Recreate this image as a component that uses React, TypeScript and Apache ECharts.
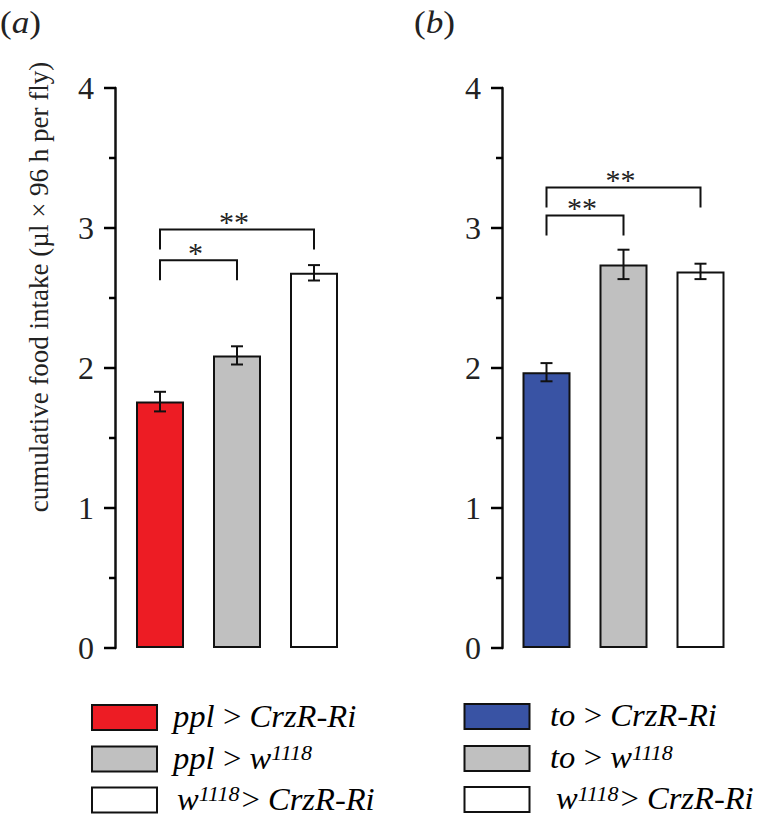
import React, { useEffect, useRef } from 'react';
import * as echarts from 'echarts';

// ---- data ----
const CAT_A = ['ppl > CrzR-Ri', 'ppl > w1118', 'w1118 > CrzR-Ri'];
const VAL_A = [1.76, 2.09, 2.68];
const ERR_A = [0.07, 0.065, 0.055];
const COLORS_A = ['#ED1C24', '#C0C0C0', '#FFFFFF'];

const CAT_B = ['to > CrzR-Ri', 'to > w1118', 'w1118 > CrzR-Ri'];
const VAL_B = [1.97, 2.74, 2.69];
const ERR_B = [0.065, 0.105, 0.055];
const COLORS_B = ['#3953A4', '#C0C0C0', '#FFFFFF'];

// [fromIndex, toIndex, bracketValue, label]
const SIG_A: [number, number, number, string][] = [
  [0, 1, 2.77, '*'],
  [0, 2, 2.99, '**'],
];
const SIG_B: [number, number, number, string][] = [
  [0, 1, 3.09, '**'],
  [0, 2, 3.29, '**'],
];

const Y_MIN = 0;
const Y_MAX = 4;
const Y_INTERVAL = 1;
// positions of the y-axis tick marks (integers = major, halves = minor)
const Y_TICK_VALUES = [0, 0.5, 1, 1.5, 2, 2.5, 3, 3.5, 4];

const Y_TITLE = 'cumulative food intake (µl × 96 h per fly)';

// legend rich-text lines
const LEGEND_A = [
  '{t|ppl\u2009>\u2009CrzR-Ri}',
  '{t|ppl\u2009>\u2009w}{s|1118}',
  '{t|w}{s|1118}{t|>\u2009CrzR-Ri}',
];
const LEGEND_B = [
  '{t|to\u2009>\u2009CrzR-Ri}',
  '{t|to\u2009>\u2009w}{s|1118}',
  '{t|w}{s|1118}{t|>\u2009CrzR-Ri}',
];

const FONT = "'Liberation Serif', 'Times New Roman', Times, serif";

const OFFSET_A = 6.5;
const OFFSET_B = 6;

const errRender = (params: any, api: any) => {
  const x = api.value(0);
  const v = api.value(1);
  const e = api.value(2);
  const top = api.coord([x, v + e]);
  const bot = api.coord([x, v - e]);
  const hw = 6;
  const st = { stroke: '#111', lineWidth: 2 };
  return {
    type: 'group',
    children: [
      { type: 'line', shape: { x1: top[0], y1: top[1], x2: bot[0], y2: bot[1] }, style: st },
      { type: 'line', shape: { x1: top[0] - hw, y1: top[1], x2: top[0] + hw, y2: top[1] }, style: st },
      { type: 'line', shape: { x1: bot[0] - hw, y1: bot[1], x2: bot[0] + hw, y2: bot[1] }, style: st },
    ],
  };
};

const makeTicks = (offset: number) => (params: any, api: any) => {
  const v = api.value(1);
  const y = api.coord([0, v])[1];
  const bandHalf = api.size([1, 0])[0] / 2;
  const x0 = api.coord([0, v])[0] - bandHalf - offset;
  const len = Math.abs(v - Math.round(v)) < 1e-9 ? 11 : 6;
  return {
    type: 'line',
    shape: { x1: x0 - len, y1: y, x2: x0 + 1, y2: y },
    style: { stroke: '#000', lineWidth: 2.5 },
  };
};

const makeSig = (sig: [number, number, number, string][]) => (params: any, api: any) => {
  const s = sig[params.dataIndex];
  const a = api.coord([s[0], s[2]]);
  const b = api.coord([s[1], s[2]]);
  const drop = 20;
  return {
    type: 'group',
    children: [
      {
        type: 'polyline',
        shape: { points: [[a[0], a[1] + drop], [a[0], a[1]], [b[0], b[1]], [b[0], b[1] + drop]] },
        style: { stroke: '#111', lineWidth: 2, fill: null },
      },
      {
        type: 'text',
        x: (a[0] + b[0]) / 2 - 3,
        y: a[1] - 8,
        style: {
          text: s[3],
          fontSize: 30,
          fontFamily: FONT,
          align: 'center',
          verticalAlign: 'middle',
          fill: '#222',
        },
      },
    ],
  };
};

const yAxisMain = (gridIndex: number, offset: number) => ({
  type: 'value',
  gridIndex,
  min: Y_MIN,
  max: Y_MAX,
  interval: Y_INTERVAL,
  offset,
  axisLine: { show: true, lineStyle: { color: '#111', width: 2.5 } },
  axisTick: { show: false },
  splitLine: { show: false },
  axisLabel: { fontFamily: FONT, fontSize: 32, color: '#222', margin: 21 },
});

const xAxisCommon = (gridIndex: number, data: string[]) => ({
  type: 'category',
  gridIndex,
  data,
  axisLine: { show: false },
  axisTick: { show: false },
  axisLabel: { show: false },
});

const richStyles = {
  t: { fontFamily: FONT, fontStyle: 'italic', fontSize: 31, color: '#222', verticalAlign: 'bottom' },
  s: { fontFamily: FONT, fontStyle: 'italic', fontSize: 21, color: '#222', verticalAlign: 'top' },
};

const legendGraphics = (
  boxX: number,
  textX: number,
  ys: number[],
  colors: string[],
  lines: string[],
  thirdShift: number
) => {
  const els: any[] = [];
  ys.forEach((y, i) => {
    els.push({
      type: 'rect',
      shape: { x: boxX, y, width: 65, height: 25 },
      style: { fill: colors[i], stroke: '#111', lineWidth: 2 },
    });
    els.push({
      type: 'text',
      x: textX + (i === 2 ? thirdShift : 0),
      y: y + 12,
      scaleX: 1.05,
      style: {
        text: lines[i],
        rich: richStyles,
        align: 'left',
        verticalAlign: 'middle',
      },
    });
  });
  return els;
};

const option: any = {
  animation: false,
  backgroundColor: '#fff',
  grid: [
    { left: 121.5, top: 88, width: 231, height: 560 },
    { left: 508, top: 88, width: 231, height: 560 },
  ],
  xAxis: [xAxisCommon(0, CAT_A), xAxisCommon(1, CAT_B)],
  yAxis: [yAxisMain(0, OFFSET_A), yAxisMain(1, OFFSET_B)],
  series: [
    {
      type: 'bar',
      xAxisIndex: 0,
      yAxisIndex: 0,
      barWidth: 48,
      data: VAL_A.map((v, i) => ({
        value: v,
        itemStyle: { color: COLORS_A[i], borderColor: '#111', borderWidth: 2 },
      })),
    },
    {
      type: 'bar',
      xAxisIndex: 1,
      yAxisIndex: 1,
      barWidth: 48,
      data: VAL_B.map((v, i) => ({
        value: v,
        itemStyle: { color: COLORS_B[i], borderColor: '#111', borderWidth: 2 },
      })),
    },
    {
      type: 'custom',
      xAxisIndex: 0,
      yAxisIndex: 0,
      renderItem: errRender,
      encode: { x: 0, y: 1 },
      data: VAL_A.map((v, i) => [i, v, ERR_A[i]]),
      z: 5,
    },
    {
      type: 'custom',
      xAxisIndex: 1,
      yAxisIndex: 1,
      renderItem: errRender,
      encode: { x: 0, y: 1 },
      data: VAL_B.map((v, i) => [i, v, ERR_B[i]]),
      z: 5,
    },
    {
      type: 'custom',
      xAxisIndex: 0,
      yAxisIndex: 0,
      renderItem: makeSig(SIG_A),
      encode: { x: 0, y: 1 },
      data: SIG_A.map((s) => [s[0], s[2]]),
      z: 5,
    },
    {
      type: 'custom',
      xAxisIndex: 1,
      yAxisIndex: 1,
      renderItem: makeSig(SIG_B),
      encode: { x: 0, y: 1 },
      data: SIG_B.map((s) => [s[0], s[2]]),
      z: 5,
    },
    {
      type: 'custom',
      xAxisIndex: 0,
      yAxisIndex: 0,
      clip: false,
      renderItem: makeTicks(OFFSET_A),
      encode: { x: 0, y: 1 },
      data: Y_TICK_VALUES.map((v) => [0, v]),
      z: 6,
    },
    {
      type: 'custom',
      xAxisIndex: 1,
      yAxisIndex: 1,
      clip: false,
      renderItem: makeTicks(OFFSET_B),
      encode: { x: 0, y: 1 },
      data: Y_TICK_VALUES.map((v) => [0, v]),
      z: 6,
    },
  ],
  graphic: [
    {
      type: 'text',
      x: 39,
      y: 287,
      rotation: Math.PI / 2,
      style: {
        text: Y_TITLE,
        fontFamily: FONT,
        fontSize: 27,
        fill: '#222',
        align: 'center',
        verticalAlign: 'middle',
      },
    },
    {
      type: 'text',
      x: 0,
      y: 22,
      scaleX: 1.1,
      style: {
        text: '({i|a})',
        fontFamily: FONT,
        fontSize: 32,
        fill: '#222',
        verticalAlign: 'middle',
        rich: { i: { fontFamily: FONT, fontSize: 32, fontStyle: 'italic', fill: '#222' } },
      },
    },
    {
      type: 'text',
      x: 414,
      y: 22,
      scaleX: 1.1,
      style: {
        text: '({i|b})',
        fontFamily: FONT,
        fontSize: 32,
        fill: '#222',
        verticalAlign: 'middle',
        rich: { i: { fontFamily: FONT, fontSize: 32, fontStyle: 'italic', fill: '#222' } },
      },
    },
    ...legendGraphics(92, 173, [705, 746.5, 787.5], COLORS_A, LEGEND_A, 4),
    ...legendGraphics(464.5, 550, [704, 746, 787], COLORS_B, LEGEND_B, 6),
  ],
};

export default function App() {
  const ref = useRef<HTMLDivElement>(null);
  useEffect(() => {
    const chart = echarts.init(ref.current as HTMLDivElement, null, { renderer: 'svg' });
    chart.setOption(option);
    return () => chart.dispose();
  }, []);
  return (
    <div
      ref={ref}
      style={{ position: 'fixed', left: 0, top: 0, width: 766, height: 823, background: '#fff' }}
    />
  );
}
